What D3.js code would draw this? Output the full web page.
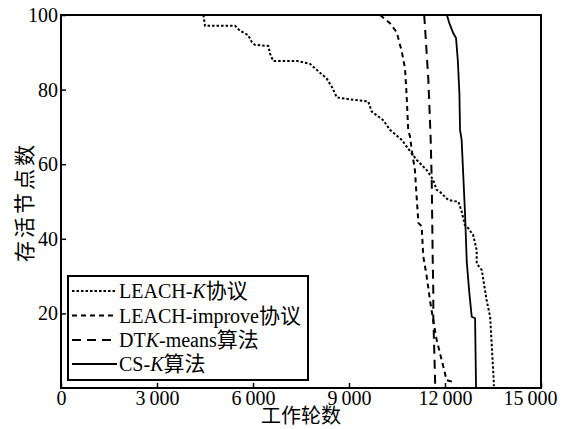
<!DOCTYPE html>
<html><head><meta charset="utf-8">
<script src="https://cdn.jsdelivr.net/npm/d3@7/dist/d3.min.js"></script>
<style>
body{margin:0;background:#fff;}
text{font-family:"Liberation Serif","Times New Roman","Noto Sans CJK SC",serif;fill:#000;}
</style></head>
<body><svg id="chart" width="566" height="429"></svg>
<script>
// ---- data ----
const seriesNames = ["LEACH-K协议", "LEACH-improve协议", "DTK-means算法", "CS-K算法"];
const leachK_x = [4450,4500,5440,5590,5850,5960,6060,6480,6530,6630,7370,7780,7990,8300,8460,8620,9190,9600,9710,10070,10280,10650,10960,11120,11430,11630,11740,11840,12100,12420,12520,12620,12720,12880,12990,12990,13150,13300,13410,13510,13530];
const leachK_y = [100,97.1,97.1,95.8,94.6,92.8,92,91.7,89.7,87.7,87.7,86.9,85.3,83,80.8,77.9,77.2,76.8,74.1,71.8,69.2,66.5,62.9,61.1,58.4,55.8,53.1,52.6,50.4,49.9,47.3,43.7,42.9,41,37,33.4,31.6,23.6,19.1,4,0.5];
const improve_x = [9970,10280,10490,10650,10750,10800,10850,10910,10960,11060,11120,11170,11270,11320,11430,11530,11630,11740,11950,12050,12260];
const improve_y = [100,97.8,95.4,90.2,85.7,78.6,69.2,67.3,63.8,58.4,50.4,44.2,43.4,35.4,29.8,23.6,18.2,12.9,5.6,2.1,1.6];
const dtk_x = [11350,11375,11480,11550,11585,11615,11635,11635,11690,11690];
const dtk_y = [100,96.8,82.6,67.3,55.8,35.1,25.5,19,2.1,0.3];
const csk_x = [12060,12135,12260,12345,12400,12450,12470,12520,12625,12680,12760,12835,12940,12970];
const csk_y = [100,97.8,95.1,93.8,87.9,79,69.2,66.5,46.9,33.8,25.5,19.1,18.7,0];
const xTicks = [0,3000,6000,9000,12000,15000];
const yTicks = [20,40,60,80,100];
const xTitle = "工作轮数";
const yTitle = "存活节点数";

// ---- layout ----
const L = 61, R = 541, T = 15, B = 388;
const svg = d3.select("#chart");
const x = d3.scaleLinear().domain([0,15000]).range([L,R]);
const y = d3.scaleLinear().domain([0,100]).range([B,T]);

const fmt = v => {
  const s = String(v);
  return v >= 1000 ? s.slice(0, s.length-3) + "\u2009" + s.slice(-3) : s;
};

const series = [
  {xs: leachK_x, ys: leachK_y, dash: "2.5,2", w: 2},
  {xs: improve_x, ys: improve_y, dash: "5,4", w: 2},
  {xs: dtk_x, ys: dtk_y, dash: "9,6", w: 2},
  {xs: csk_x, ys: csk_y, dash: null, w: 1.8}
];

const line = d3.line().x(d => x(d[0])).y(d => y(d[1]));
const plot = svg.append("g");
plot.append("clipPath").attr("id","clip").append("rect").attr("x",L).attr("y",T).attr("width",R-L).attr("height",B-T);
series.forEach(s => {
  const pts = s.xs.map((v,i) => [v, s.ys[i]]);
  plot.append("path").attr("d", line(pts)).attr("fill","none").attr("stroke","#000")
    .attr("stroke-width", s.w).attr("stroke-dasharray", s.dash).attr("clip-path","url(#clip)");
});

// axes
const xAxis = d3.axisBottom(x).tickValues(xTicks).tickSizeInner(-5).tickSizeOuter(0).tickPadding(3).tickFormat(fmt);
const gx = svg.append("g").attr("transform",`translate(0,${B})`).call(xAxis);
gx.select(".domain").remove();
gx.selectAll("line").attr("stroke","#000").attr("stroke-width",1.5);
gx.selectAll("text").attr("font-size",20).attr("font-family","Liberation Serif, serif");
gx.selectAll(".tick").filter(d => d === 15000).select("text").attr("text-anchor","end").attr("x",16);

const yAxis = d3.axisLeft(y).tickValues(yTicks).tickSizeInner(-5).tickSizeOuter(0).tickPadding(3).tickFormat(d => d);
const gy = svg.append("g").attr("transform",`translate(${L},0)`).call(yAxis);
gy.select(".domain").remove();
gy.selectAll("line").attr("stroke","#000").attr("stroke-width",1.5);
gy.selectAll("text").attr("font-size",20).attr("font-family","Liberation Serif, serif");

// frame
svg.append("rect").attr("x",L).attr("y",T).attr("width",R-L).attr("height",B-T)
  .attr("fill","none").attr("stroke","#000").attr("stroke-width",2);

// titles
svg.append("text").attr("x",301).attr("y",423).attr("text-anchor","middle")
  .attr("font-size",20).attr("font-family","Noto Sans CJK SC, sans-serif").text(xTitle);
svg.append("text").attr("transform","translate(32,202) rotate(-90)").attr("text-anchor","middle")
  .attr("font-size",21).attr("letter-spacing",3).attr("font-family","Noto Sans CJK SC, sans-serif").text(yTitle);

// legend
const lg = svg.append("g");
lg.append("rect").attr("x",68).attr("y",276).attr("width",240).attr("height",104)
  .attr("fill","#fff").attr("stroke","#000").attr("stroke-width",2);
const rowsY = [291,315.5,340,364];
const parts = [
  [["LEACH-",false],["K",true],["协议",false]],
  [["LEACH-improve",false],["协议",false]],
  [["DT",false],["K",true],["-means",false],["算法",false]],
  [["CS-",false],["K",true],["算法",false]]
];
series.forEach((s,i) => {
  lg.append("line").attr("x1",72).attr("x2",117).attr("y1",rowsY[i]).attr("y2",rowsY[i])
    .attr("stroke","#000").attr("stroke-width",s.w).attr("stroke-dasharray",s.dash);
  const t = lg.append("text").attr("x",119).attr("y",rowsY[i]+7).attr("font-size",20);
  parts[i].forEach(p => {
    const ts = t.append("tspan").attr("font-style", p[1] ? "italic" : "normal").text(p[0]);
    if (/[\u4e00-\u9fff]/.test(p[0])) ts.attr("font-size",21);
  });
});
</script></body></html>
